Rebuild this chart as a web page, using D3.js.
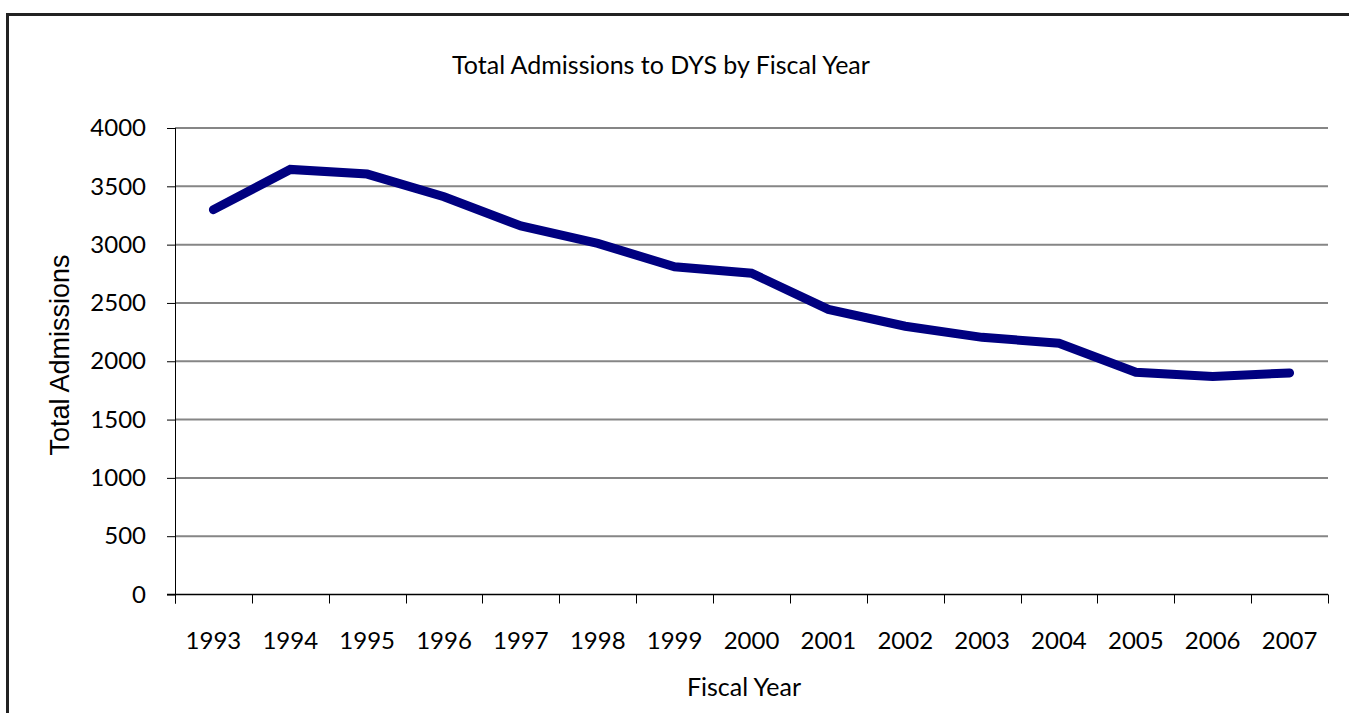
<!DOCTYPE html>
<html>
<head>
<meta charset="utf-8">
<script src="https://cdn.jsdelivr.net/npm/d3@7"></script>
<style>
  body { margin: 0; background: #fff; }
  svg { display: block; }
</style>
</head>
<body>
<div id="chart"></div>
<script>
// data
var years = ["1993","1994","1995","1996","1997","1998","1999","2000","2001","2002","2003","2004","2005","2006","2007"];
var admissions = [3300, 3645, 3605, 3410, 3160, 3010, 2810, 2755, 2445, 2300, 2205, 2155, 1905, 1870, 1900];
var yTicks = [0, 500, 1000, 1500, 2000, 2500, 3000, 3500, 4000];

var W = 1349, H = 713;
var plot = {left: 175, right: 1328, top: 128, bottom: 594.5};

var svg = d3.select("#chart").append("svg")
    .attr("width", W)
    .attr("height", H);

// outer frame
svg.append("rect")
    .attr("x", 7.5).attr("y", 14.5)
    .attr("width", 1400).attr("height", 800)
    .attr("fill", "none")
    .attr("stroke", "#222")
    .attr("stroke-width", 3);

var x = d3.scaleBand().domain(years).range([plot.left, plot.right]);
var y = d3.scaleLinear().domain([0, 4000]).range([plot.bottom, plot.top]);

// gridlines
svg.append("g").selectAll("line")
    .data(yTicks.filter(function(d) { return d > 0; }))
    .enter().append("line")
    .attr("x1", plot.left).attr("x2", plot.right)
    .attr("y1", function(d) { return y(d); })
    .attr("y2", function(d) { return y(d); })
    .attr("stroke", "#868686")
    .attr("stroke-width", 2);

// y axis
var yAxis = d3.axisLeft(y).tickValues(yTicks).tickFormat(d3.format("d"))
    .tickSize(8).tickPadding(21);
var gy = svg.append("g")
    .attr("transform", "translate(" + plot.left + ",0)")
    .call(yAxis);
gy.select(".domain").attr("d", "M0.5," + plot.top + "V" + (plot.bottom + 9))
    .attr("stroke", "#000");
gy.selectAll(".tick line").attr("stroke", "#000");
gy.selectAll(".tick text")
    .attr("font-family", "Lato, sans-serif")
    .attr("font-size", 24)
    .attr("fill", "#000");

// x axis (ticks at category boundaries)
svg.append("line")
    .attr("x1", plot.left - 8).attr("x2", plot.right)
    .attr("y1", plot.bottom).attr("y2", plot.bottom)
    .attr("stroke", "#000").attr("stroke-width", 1.5);

var bounds = years.map(function(d) { return x(d); }).concat([plot.right]);
svg.append("g").selectAll("line")
    .data(bounds)
    .enter().append("line")
    .attr("x1", function(d) { return Math.round(d) + 0.5; })
    .attr("x2", function(d) { return Math.round(d) + 0.5; })
    .attr("y1", plot.bottom).attr("y2", plot.bottom + 9)
    .attr("stroke", "#000");

svg.append("g").selectAll("text")
    .data(years)
    .enter().append("text")
    .attr("x", function(d) { return x(d) + x.bandwidth() / 2; })
    .attr("y", 649)
    .attr("text-anchor", "middle")
    .attr("font-family", "Lato, sans-serif")
    .attr("font-size", 24)
    .text(function(d) { return d; });

// the line
var line = d3.line()
    .x(function(d, i) { return x(years[i]) + x.bandwidth() / 2; })
    .y(function(d) { return y(d); });

svg.append("path")
    .datum(admissions)
    .attr("d", line)
    .attr("fill", "none")
    .attr("stroke", "#000080")
    .attr("stroke-width", 9)
    .attr("stroke-linecap", "round")
    .attr("stroke-linejoin", "miter");

// titles
svg.append("text")
    .attr("x", 661).attr("y", 74)
    .attr("text-anchor", "middle")
    .attr("font-family", "Lato, sans-serif")
    .attr("font-size", 25)
    .text("Total Admissions to DYS by Fiscal Year");

svg.append("text")
    .attr("x", 744).attr("y", 696)
    .attr("text-anchor", "middle")
    .attr("font-family", "Lato, sans-serif")
    .attr("font-size", 25)
    .text("Fiscal Year");

svg.append("text")
    .attr("transform", "translate(69,355) rotate(-90)")
    .attr("text-anchor", "middle")
    .attr("font-family", "'Liberation Sans', Arial, sans-serif")
    .attr("font-size", 27)
    .text("Total Admissions");
</script>
</body>
</html>
